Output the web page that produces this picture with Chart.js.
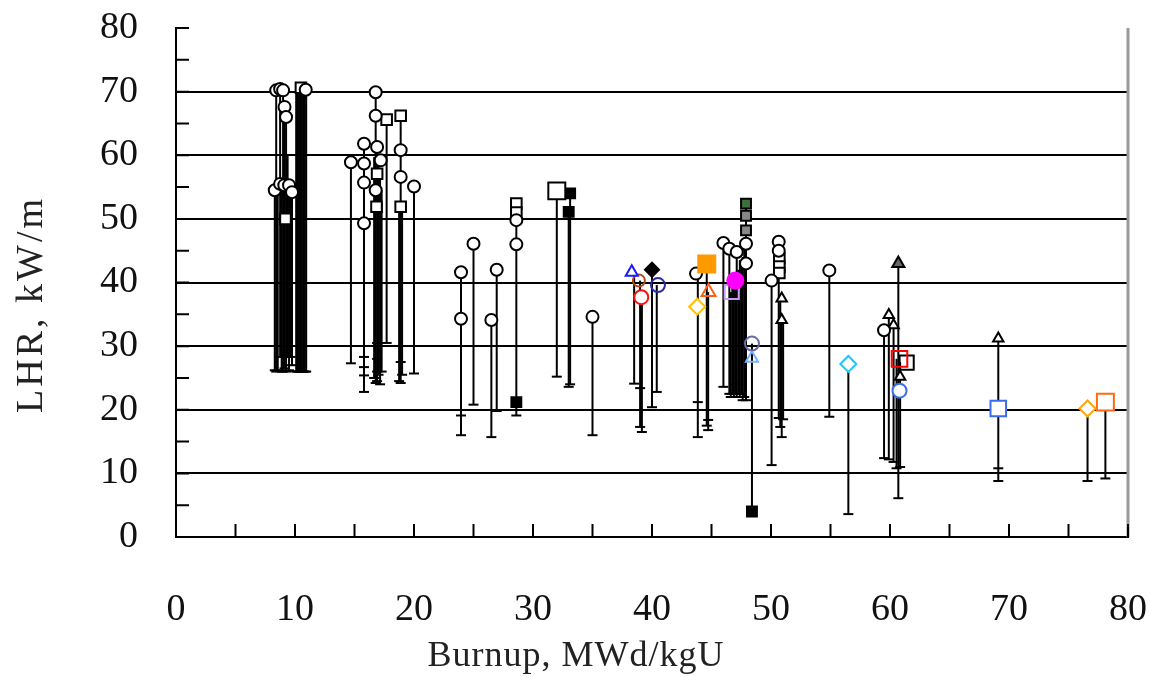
<!DOCTYPE html>
<html>
<head>
<meta charset="utf-8">
<script src="https://cdn.jsdelivr.net/npm/chart.js@4.4.1/dist/chart.umd.min.js"></script>
<style>
  html, body { margin: 0; padding: 0; background: #fff; }
</style>
</head>
<body>
<canvas id="lhrChart" width="1150" height="677"></canvas>
<script>
// one vertical line per rod: burnup, LHR at bottom, LHR at top
const rodBurnup = [
  8.30, 8.42, 8.55, 8.75, 8.88, 9.00, 9.12, 9.25, 9.38, 9.50, 9.62, 9.75,
  10.10, 10.22, 10.34, 10.46, 10.58, 10.70, 10.82, 10.94,
  14.7, 15.8, 16.65, 16.78, 16.90, 17.02, 17.15, 17.28, 17.7, 18.75, 18.88, 19.0, 20.0,
  23.95, 25.0, 26.5, 26.95, 28.6, 32.0, 33.0, 33.12, 35.0,
  38.5, 39.0, 39.15, 40.0, 40.4, 43.85, 44.6, 44.72, 46.0,
  46.5, 46.62, 46.75, 46.88, 47.0, 47.12, 47.25, 47.38, 47.5, 47.62, 47.75, 47.9, 48.4,
  50.05, 50.65, 50.78, 50.9, 51.02, 54.9,
  56.5, 59.5, 59.9, 60.3, 60.55, 60.7, 60.85, 69.1, 76.6, 78.1
];
const rodLow = [
  26.2, 26.0, 26.2, 28.3, 26.0, 26.0, 26.5, 26.0, 28.3, 26.2, 28.3, 27.0,
  26.0, 26.0, 26.0, 26.0, 26.0, 26.0, 26.0, 26.0,
  27.3, 22.8, 25.0, 24.2, 24.5, 25.5, 24.0, 26.0, 30.5, 24.5, 24.2, 25.5, 25.7,
  16.0, 20.8, 15.7, 19.8, 19.1, 25.2, 23.6, 24.0, 16.0,
  24.1, 17.3, 16.5, 20.4, 22.8, 15.7, 17.5, 16.8, 23.6,
  22.5, 22.0, 22.5, 22.0, 22.5, 22.0, 22.5, 22.0, 22.5, 21.5, 22.0, 21.5, 4.0,
  11.3, 18.7, 17.3, 15.7, 18.5, 18.9,
  3.6, 12.4, 12.2, 11.8, 10.8, 6.1, 11.0, 8.8, 8.8, 9.2
];
const rodHigh = [
  54.5, 70.2, 55.3, 70.4, 55.5, 70.2, 67.6, 66.0, 60.0, 55.3, 55.0, 54.2,
  70.5, 71.0, 70.8, 70.6, 70.8, 70.5, 70.4, 70.2,
  58.9, 61.8, 59.7, 69.9, 61.3, 59.2, 57.1, 54.5, 65.6, 52.0, 66.2, 52.0, 55.1,
  41.6, 46.1, 34.1, 42.0, 52.4, 54.4, 51.1, 54.0, 34.6,
  41.6, 40.3, 37.7, 42.0, 39.6, 41.4, 42.9, 38.5, 46.2,
  45.3, 38.5, 40.3, 40.3, 40.3, 44.8, 42.0, 43.5, 42.5, 44.0, 46.1, 52.4, 30.4,
  40.3, 46.4, 37.5, 34.1, 34.0, 41.9,
  27.2, 32.5, 34.9, 33.3, 28.0, 43.0, 27.5, 31.2, 20.2, 21.2
];

// extra short marks part way down some lines
const capBurnup = [15.8, 15.8, 15.8, 16.9, 16.9, 16.9, 23.95, 39.0, 43.85, 44.72, 69.1, 18.88, 47.0];
const capLHR    = [28.3, 26.7, 25.4, 30.5, 28.0, 26.0, 19.1, 23.4, 21.2, 18.4, 10.8, 27.5, 24.0];

// open (white) markers
const openX = [8.42, 8.75, 9.0, 9.12, 9.25, 8.3, 8.75, 9.1, 9.5, 9.75, 10.9,
  14.7, 15.8, 15.8, 15.8, 15.8, 16.78, 16.78, 16.9, 16.78, 17.2, 18.88, 18.88, 20.0,
  23.95, 23.95, 25.0, 26.5, 26.95, 28.6, 28.6, 35.0,
  43.7, 46.0, 46.5, 47.12, 47.9, 47.9, 50.05, 50.65, 50.65, 54.9, 59.5];
const openY = [70.2, 70.4, 70.2, 67.6, 66.0, 54.5, 55.5, 55.3, 55.3, 54.2, 70.3,
  58.9, 61.8, 58.7, 55.7, 49.3, 69.9, 66.2, 61.3, 54.5, 59.2, 60.8, 56.6, 55.1,
  41.6, 34.3, 46.1, 34.1, 42.0, 49.8, 46.0, 34.6,
  41.4, 46.2, 45.3, 44.8, 46.1, 43.0, 40.3, 46.4, 45.0, 41.9, 32.5];
const openSqX = [9.2, 10.5, 16.9, 16.85, 17.7, 18.88, 18.88, 28.6, 28.6, 50.7, 50.7, 50.7];
const openSqY = [50.0, 70.6, 57.1, 51.9, 65.6, 66.2, 51.9, 52.4, 51.0, 43.8, 42.5, 41.5];
const bigSqX = [32.0];
const bigSqY = [54.4];
const openTriX = [50.9, 50.9, 59.9, 60.3, 60.85, 69.1];
const openTriY = [37.5, 34.1, 34.9, 33.3, 25.2, 31.2];
const blackSqX = [28.6, 33.12, 33.0, 48.4];
const blackSqY = [21.2, 54.0, 51.1, 4.0];
const graySqX = [47.9, 47.9];
const graySqY = [50.5, 48.2];

// coloured single markers
const specialName = ['blueTri', 'brownCirc', 'redCirc', 'blackDiam', 'navyCirc', 'yellowDiam',
  'orangeSq', 'orangeTri', 'magentaCirc', 'lilacSq', 'greenMark', 'slateCirc', 'skyTri',
  'cyanDiam', 'grayTri', 'redSq', 'blackSq', 'blueCirc', 'blueSq', 'amberDiam', 'orangeSqOpen'];
const specialX = [38.3, 38.9, 39.1, 40.0, 40.5, 43.8, 44.6, 44.75, 47.0, 46.7, 47.9, 48.4, 48.4,
  56.5, 60.7, 60.8, 61.4, 60.8, 69.1, 76.6, 78.1];
const specialY = [41.6, 40.3, 37.7, 42.0, 39.6, 36.2, 42.9, 38.5, 40.3, 38.5, 52.4, 30.4, 28.1,
  27.2, 43.0, 28.0, 27.4, 23.0, 20.2, 20.2, 21.2];

const xTicks = [0, 10, 20, 30, 40, 50, 60, 70, 80];
const yTicks = [0, 10, 20, 30, 40, 50, 60, 70, 80];

const specialStyle = {
  blueTri:     { pointStyle: 'triangle', radius: 7,  border: '#1a1aff', fill: '#fff' },
  brownCirc:   { pointStyle: 'circle',   radius: 6,  border: '#b04a1a', fill: 'rgba(0,0,0,0)' },
  redCirc:     { pointStyle: 'circle',   radius: 7,  border: '#ff1010', fill: '#fff' },
  blackDiam:   { pointStyle: 'rectRot',  radius: 7,  border: '#000',    fill: '#000' },
  navyCirc:    { pointStyle: 'circle',   radius: 7,  border: '#2b2ba0', fill: 'rgba(0,0,0,0)' },
  yellowDiam:  { pointStyle: 'rectRot',  radius: 8,  border: '#ffc000', fill: '#fff' },
  orangeSq:    { pointStyle: 'rect',     radius: 12, border: '#ff9900', fill: '#ff9900' },
  orangeTri:   { pointStyle: 'triangle', radius: 8,  border: '#ff6010', fill: 'rgba(0,0,0,0)' },
  magentaCirc: { pointStyle: 'circle',   radius: 8,  border: '#ff00ff', fill: '#ff00ff' },
  lilacSq:     { pointStyle: 'rect',     radius: 10, border: '#c89cf0', fill: 'rgba(0,0,0,0)' },
  greenMark:   { pointStyle: 'rect',     radius: 7,  border: '#000',    fill: '#3f6f3f' },
  slateCirc:   { pointStyle: 'circle',   radius: 7,  border: '#6a6aa8', fill: 'rgba(0,0,0,0)' },
  skyTri:      { pointStyle: 'triangle', radius: 7,  border: '#7ab4ff', fill: 'rgba(0,0,0,0)' },
  cyanDiam:    { pointStyle: 'rectRot',  radius: 8,  border: '#19c8f5', fill: '#fff' },
  grayTri:     { pointStyle: 'triangle', radius: 7,  border: '#000',    fill: '#666' },
  redSq:       { pointStyle: 'rect',     radius: 11, border: '#ff0000', fill: 'rgba(0,0,0,0)' },
  blackSq:     { pointStyle: 'rect',     radius: 10, border: '#000',    fill: 'rgba(0,0,0,0)' },
  blueCirc:    { pointStyle: 'circle',   radius: 7,  border: '#3b6cf0', fill: '#fff' },
  blueSq:      { pointStyle: 'rect',     radius: 11, border: '#3b6cf0', fill: '#fff' },
  amberDiam:   { pointStyle: 'rectRot',  radius: 8,  border: '#ffa510', fill: '#fff' },
  orangeSqOpen:{ pointStyle: 'rect',     radius: 12, border: '#ff6a10', fill: '#fff' }
};

function pts(xs, ys) {
  return xs.map((x, i) => ({ x: x, y: ys[i] }));
}

const datasets = [];

// coloured markers on top
specialName.forEach((name, i) => {
  const s = specialStyle[name];
  datasets.push({
    label: name,
    data: [{ x: specialX[i], y: specialY[i] }],
    pointStyle: s.pointStyle,
    pointRadius: s.radius,
    pointBackgroundColor: s.fill,
    pointBorderColor: s.border,
    pointBorderWidth: 2,
    order: 0
  });
});

function markerSet(label, xs, ys, style, radius, fill, border) {
  datasets.push({
    label: label,
    data: pts(xs, ys),
    pointStyle: style,
    pointRadius: radius,
    pointBackgroundColor: fill,
    pointBorderColor: border || '#000',
    pointBorderWidth: 2,
    order: 1
  });
}
markerSet('open', openX, openY, 'circle', 6, '#fff');
markerSet('openSq', openSqX, openSqY, 'rect', 7.5, '#fff');
markerSet('bigSq', bigSqX, bigSqY, 'rect', 12, '#fff');
markerSet('openTri', openTriX, openTriY, 'triangle', 6, '#fff');
markerSet('blackSq', blackSqX, blackSqY, 'rect', 7, '#000');
markerSet('graySq', graySqX, graySqY, 'rect', 7, '#888');

datasets.push({
  label: 'caps',
  data: pts(capBurnup, capLHR),
  pointStyle: 'line',
  pointRadius: 5,
  pointBorderColor: '#000',
  pointBorderWidth: 2,
  order: 2
});

rodBurnup.forEach((b, i) => {
  datasets.push({
    label: 'rod' + i,
    data: [{ x: b, y: rodLow[i] }, { x: b, y: rodHigh[i] }],
    showLine: true,
    borderColor: '#000',
    borderWidth: 2,
    pointStyle: 'line',
    pointRadius: [5, 0],
    pointBorderColor: '#000',
    pointBorderWidth: 2,
    order: 3
  });
});

// inward tick marks, right frame line and axis titles
const frameAndTitles = {
  id: 'frameAndTitles',
  afterDraw(chart) {
    const { ctx, chartArea: a, scales } = chart;
    ctx.save();
    ctx.strokeStyle = '#9a9a9a';
    ctx.lineWidth = 3;
    ctx.beginPath();
    ctx.moveTo(a.right, a.top);
    ctx.lineTo(a.right, a.bottom);
    ctx.stroke();

    ctx.strokeStyle = '#000';
    ctx.lineWidth = 2;
    ctx.beginPath();
    for (let v = 5; v <= 80; v += 5) {
      const px = scales.x.getPixelForValue(v);
      ctx.moveTo(px, a.bottom);
      ctx.lineTo(px, a.bottom - 13);
      const py = scales.y.getPixelForValue(v);
      ctx.moveTo(a.left, py);
      ctx.lineTo(a.left + 13, py);
    }
    ctx.stroke();

    ctx.fillStyle = '#222';
    ctx.textAlign = 'center';
    ctx.textBaseline = 'middle';
    ctx.font = '36px "Liberation Serif"';
    ctx.letterSpacing = '1px';
    ctx.fillText('Burnup, MWd/kgU', a.left + 400, a.bottom + 120);
    ctx.font = '38px "Liberation Serif"';
    ctx.letterSpacing = '3px';
    ctx.translate(32, (a.top + a.bottom) / 2 + 22);
    ctx.rotate(-Math.PI / 2);
    ctx.fillText('LHR, kW/m', 0, 0);
    ctx.restore();
  }
};

const tickFont = { family: '"Liberation Serif"', size: 38 };

new Chart(document.getElementById('lhrChart'), {
  type: 'scatter',
  data: { datasets: datasets },
  options: {
    responsive: false,
    animation: false,
    devicePixelRatio: 1,
    layout: { autoPadding: false, padding: { top: 28, right: 22, left: 0, bottom: 0 } },
    plugins: { legend: { display: false }, tooltip: { enabled: false } },
    scales: {
      x: {
        type: 'linear',
        min: 0,
        max: 80,
        afterFit: (s) => { s.height = 140; s.paddingLeft = 0; s.paddingRight = 0; },
        afterBuildTicks: (s) => { s.ticks = xTicks.map(v => ({ value: v })); },
        grid: { display: false, drawTicks: false },
        border: { display: true, color: '#000', width: 2 },
        ticks: { font: tickFont, color: '#111', padding: 50, maxRotation: 0 }
      },
      y: {
        type: 'linear',
        min: 0,
        max: 80,
        afterFit: (s) => { s.width = 176; s.paddingTop = 0; s.paddingBottom = 0; },
        afterBuildTicks: (s) => { s.ticks = yTicks.map(v => ({ value: v })); },
        grid: {
          drawTicks: false,
          lineWidth: 2,
          color: (c) => (c.tick && c.tick.value > 0 && c.tick.value < 80) ? '#000' : 'rgba(0,0,0,0)'
        },
        border: { display: true, color: '#000', width: 2 },
        ticks: { font: tickFont, color: '#111', padding: 38 }
      }
    }
  },
  plugins: [frameAndTitles]
});
</script>
</body>
</html>
